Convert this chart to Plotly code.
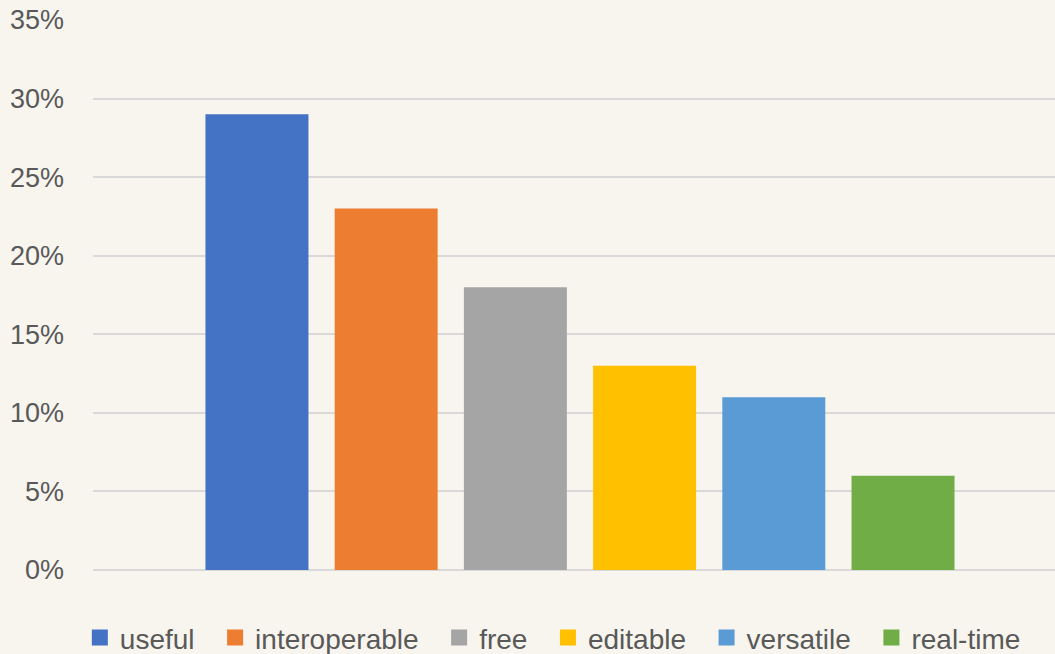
import plotly.graph_objects as go

series = ["useful", "interoperable", "free", "editable", "versatile", "real-time"]
values = [0.29, 0.23, 0.18, 0.13, 0.11, 0.06]
colors = ["#4472C4", "#ED7D31", "#A5A5A5", "#FFC000", "#5B9BD5", "#70AD47"]
category = [""]
tick_vals = [0, 0.05, 0.10, 0.15, 0.20, 0.25, 0.30, 0.35]
tick_text = ["0%", "5%", "10%", "15%", "20%", "25%", "30%", "35%"]

FONT = "Liberation Sans"
BG = "#F7F5EE"
fig = go.Figure()
for i, (name, v, c) in enumerate(zip(series, values, colors)):
    fig.add_trace(go.Bar(x=category, y=[v], name=name, showlegend=False,
                         marker=dict(color=c, line=dict(width=0))))
for i, (name, c) in enumerate(zip(series, colors)):
    pad = "\u00a0\u00a0" if i < len(series) - 1 else ""
    fig.add_trace(go.Scatter(x=[None], y=[None], mode="markers", name=name + pad,
                             marker=dict(symbol="square", size=16, color=c),
                             hoverinfo="skip"))

fig.update_layout(
    width=1055, height=654,
    paper_bgcolor=BG, plot_bgcolor=BG,
    barmode="group", bargap=0.204, bargroupgap=0.203,
    margin=dict(l=93, r=0, t=20, b=84, autoexpand=False),
    font=dict(family=FONT, size=27, color="#595959"),
    xaxis=dict(showticklabels=False, showgrid=False, zeroline=False, showline=False,
               range=[-0.5, 0.4877], fixedrange=True),
    yaxis=dict(range=[0, 0.35], tickvals=tick_vals, ticktext=tick_text,
               showgrid=True, gridcolor="#D9D9D9", gridwidth=2,
               zeroline=True, zerolinecolor="#D9D9D9", zerolinewidth=2,
               showline=False, ticks="", ticklabelstandoff=28),
    legend=dict(orientation="h", x=0.478, xanchor="center", y=-0.078, yanchor="top",
                font=dict(family=FONT, size=28, color="#595959"),
                bgcolor="rgba(0,0,0,0)", itemwidth=30, tracegroupgap=0,
                itemsizing="trace"),
    showlegend=True,
)

fig.write_html("out.html", config={"displayModeBar": False},
               post_script="document.body.style.margin='0';document.body.style.background='%s';" % BG)
